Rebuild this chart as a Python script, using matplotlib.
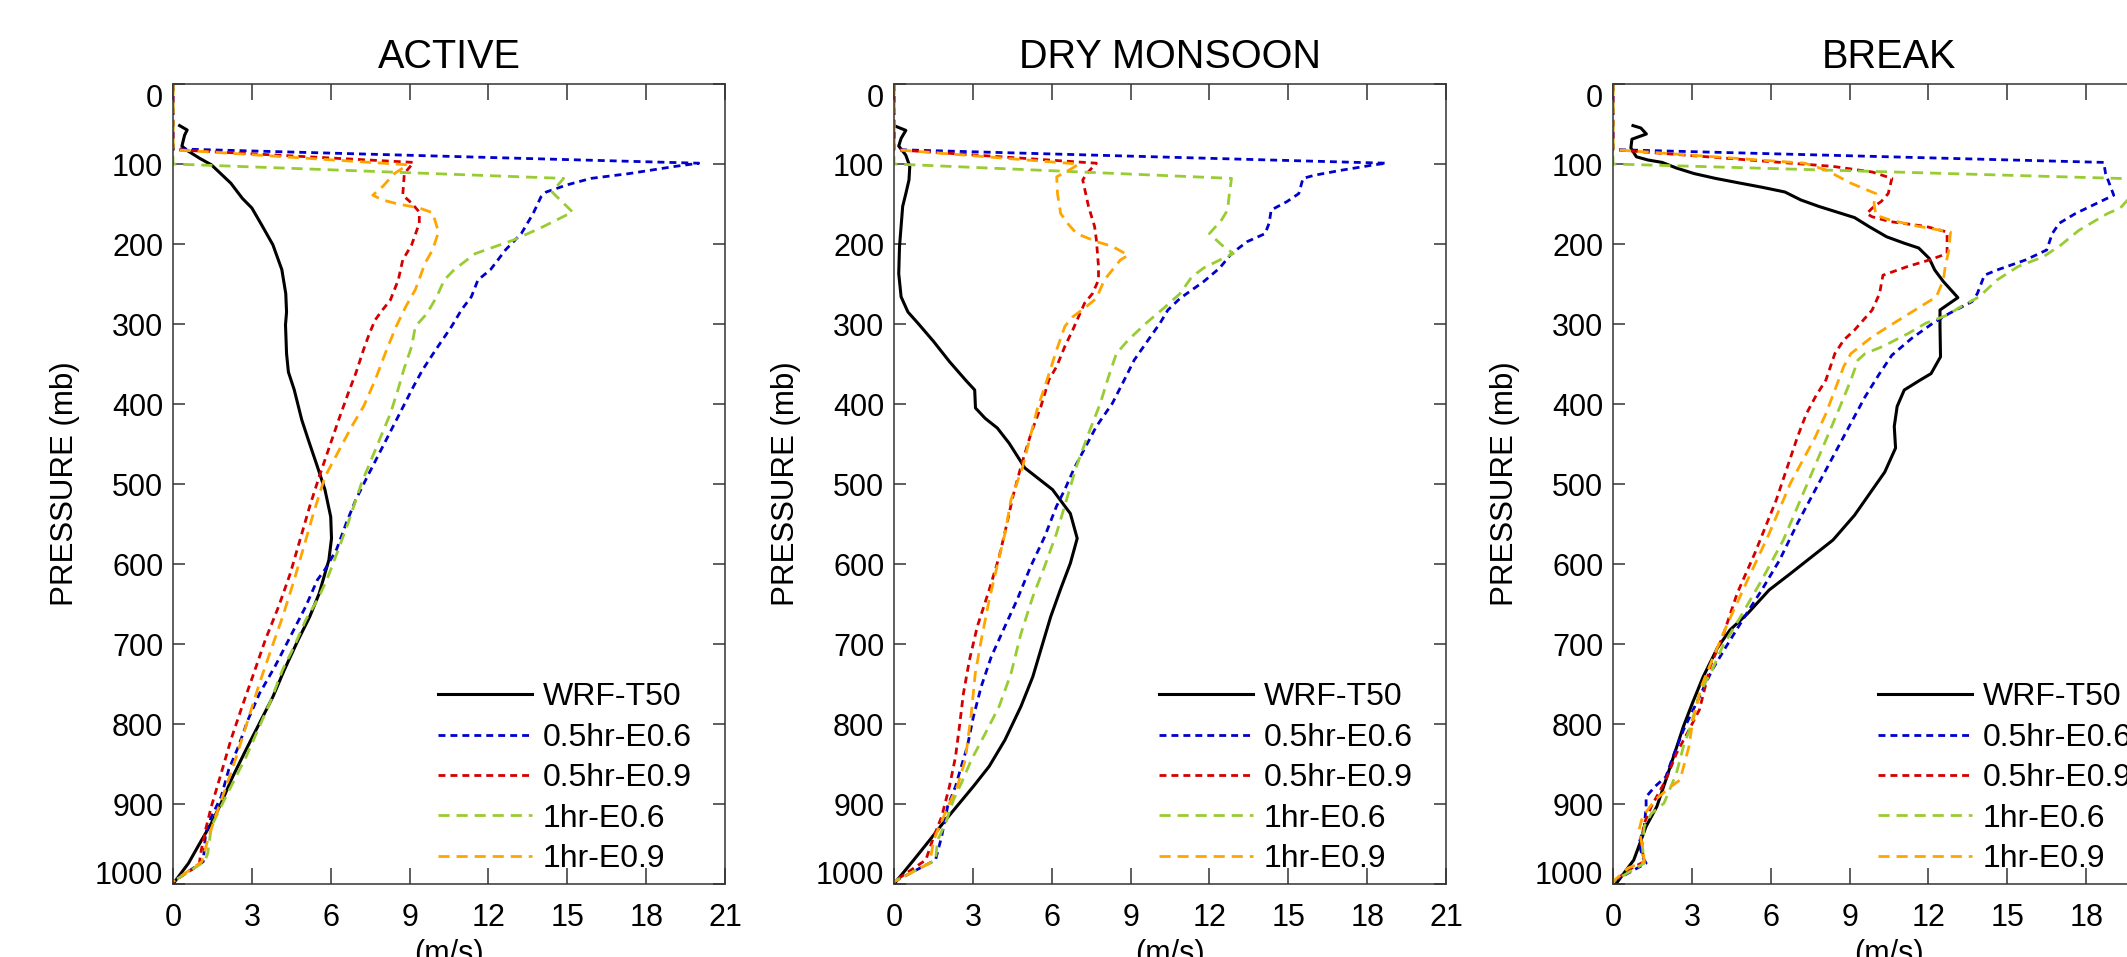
import numpy as np
import matplotlib
matplotlib.use("Agg")
import matplotlib.pyplot as plt

plt.rcParams['font.family'] = ['Liberation Sans', 'DejaVu Sans']
plt.rcParams['lines.scale_dashes'] = False

titles = ["ACTIVE", "DRY MONSOON", "BREAK"]
labels = ["WRF-T50", "0.5hr-E0.6", "0.5hr-E0.9", "1hr-E0.6", "1hr-E0.9"]
colors = ["black", "#0000cc", "#d40000", "#99cc33", "#ffa500"]
xticks = [0, 3, 6, 9, 12, 15, 18, 21]
yticks = list(range(0, 1001, 100))

# ---------------- ACTIVE ----------------
active_wrf_p = [52, 57.5, 64, 77.5, 82.5, 93, 101, 124, 143, 155, 176, 201, 232, 262, 285, 301, 337, 360, 382,
                420, 445, 478, 507, 541, 568, 595, 612, 637, 666, 695, 732, 766, 799, 832, 866, 899, 924, 949,
                974, 1000]
active_wrf_u = [0.25, 0.54, 0.44, 0.34, 0.51, 1.02, 1.46, 2.2, 2.64, 3.0, 3.37, 3.8, 4.14, 4.29, 4.32, 4.28,
                4.32, 4.39, 4.61, 4.9, 5.15, 5.49, 5.78, 6.0, 6.03, 5.93, 5.78, 5.56, 5.2, 4.76, 4.24, 3.8, 3.29,
                2.78, 2.27, 1.83, 1.46, 1.02, 0.59, 0.0]
active_b06_p = [0, 81, 99, 103, 112, 118, 126, 135, 141, 162, 187, 207, 232, 245, 266, 282, 303, 332, 357, 378,
                416, 491, 520, 549, 582, 607, 620, 653, 691, 728, 762, 795, 828, 857, 891, 916, 937, 972, 997]
active_b06_u = [0, 0, 20.0, 19.1, 17.35, 15.9, 15.0, 14.2, 14.0, 13.7, 13.25, 12.66, 12.08, 11.6, 11.35, 10.98,
                10.6, 10.0, 9.5, 9.15, 8.56, 7.39, 6.95, 6.59, 6.22, 5.78, 5.49, 5.05, 4.46, 3.88, 3.29, 2.85,
                2.49, 2.12, 1.83, 1.46, 1.24, 1.15, 0]
active_b09_p = [0, 82, 98, 112, 139, 149, 160, 174, 201, 220, 245, 270, 282, 295, 312, 332, 362, 387, 420, 491,
                528, 570, 612, 653, 695, 737, 778, 820, 862, 903, 932, 962, 976, 997]
active_b09_u = [0, 0, 9.15, 8.8, 8.74, 9.08, 9.37, 9.37, 9.08, 8.74, 8.57, 8.27, 7.98, 7.69, 7.47, 7.25, 6.95,
                6.66, 6.3, 5.56, 5.2, 4.83, 4.46, 4.02, 3.51, 3.07, 2.63, 2.2, 1.83, 1.46, 1.24, 1.05, 1.0, 0]
active_h06_p = [0, 100, 118, 135, 160, 180, 195, 207, 212, 232, 245, 266, 287, 303, 328, 357, 382, 412, 499, 549,
                582, 620, 645, 670, 703, 732, 770, 803, 841, 874, 903, 928, 962, 972, 997]
active_h06_u = [0, 0, 14.86, 14.42, 15.2, 13.98, 12.96, 11.93, 11.5, 10.7, 10.32, 10.03, 9.66, 9.22, 9.08, 8.78,
                8.56, 8.27, 7.17, 6.66, 6.29, 5.85, 5.49, 5.05, 4.61, 4.17, 3.73, 3.29, 2.78, 2.27, 1.83, 1.46,
                1.32, 1.2, 0]
active_h09_p = [0, 82, 101, 112, 128, 139, 145, 150, 155, 161, 185, 207, 224, 257, 278, 303, 332, 370, 403, 428,
                491, 537, 578, 620, 666, 707, 749, 795, 841, 882, 916, 945, 972, 997]
active_h09_u = [0, 0, 8.93, 8.42, 7.98, 7.6, 7.98, 8.56, 9.37, 9.88, 10.1, 9.88, 9.59, 9.22, 8.86, 8.49, 8.13,
                7.69, 7.25, 6.8, 5.78, 5.34, 4.98, 4.61, 4.17, 3.73, 3.29, 2.85, 2.41, 1.98, 1.61, 1.32, 1.1, 0]

# ---------------- DRY MONSOON ----------------
dry_wrf_p = [52, 58, 68, 77.5, 89, 103, 120, 137, 153, 178, 203, 237, 266, 285, 299, 322, 347, 370, 382.5, 405,
             418, 430, 449, 480, 507, 537, 568, 599, 632, 666, 699, 741, 778, 820, 853, 878, 899, 920, 945, 970,
             1000]
dry_wrf_u = [0, 0.45, 0.27, 0.18, 0.45, 0.6, 0.57, 0.45, 0.33, 0.27, 0.21, 0.18, 0.27, 0.53, 0.91, 1.51, 2.11,
             2.72, 3.07, 3.1, 3.47, 3.93, 4.38, 4.98, 6.03, 6.71, 6.97, 6.71, 6.33, 5.96, 5.66, 5.28, 4.83, 4.22,
             3.62, 3.02, 2.49, 1.96, 1.36, 0.75, 0.0]
dry_b06_p = [0, 82, 99, 101, 107.5, 114, 118, 137, 147, 157.5, 174, 187, 197, 212, 230, 247, 257.5, 268, 282.5,
             299, 320, 345, 370, 399, 428, 480, 507.5, 528, 566, 603, 645, 678, 716, 753, 791, 828, 853, 878, 903,
             941, 970, 997]
dry_b06_u = [0, 0, 18.73, 18.28, 17.07, 16.0, 15.56, 15.4, 14.95, 14.35, 14.27, 14.12, 13.44, 12.84, 12.39, 11.78,
             11.33, 10.88, 10.42, 10.12, 9.67, 9.14, 8.76, 8.31, 7.7, 6.86, 6.49, 6.18, 5.73, 5.2, 4.68, 4.22, 3.7,
             3.32, 3.02, 2.79, 2.56, 2.34, 2.04, 1.81, 1.58, 0]
dry_b09_p = [0, 82, 99, 112, 120, 153, 178, 195, 228, 245, 262, 274, 291, 307.5, 328, 353, 370, 403, 437, 478,
             516, 549, 591, 632.5, 678, 720, 762, 803, 841, 878, 916, 941, 970, 997]
dry_b09_u = [0, 0, 7.7, 7.33, 7.18, 7.4, 7.63, 7.7, 7.78, 7.78, 7.55, 7.25, 7.02, 6.8, 6.5, 6.19, 5.89, 5.59,
             5.21, 4.83, 4.52, 4.3, 4.0, 3.62, 3.17, 2.87, 2.64, 2.49, 2.34, 2.11, 1.81, 1.51, 1.21, 0]
dry_h06_p = [0, 100, 118, 137, 157.5, 170, 187, 201, 212, 220, 230, 241, 262, 280, 299, 320, 337, 366, 399, 437,
             478, 520, 562, 603, 641, 687, 737, 778, 812, 845, 874, 895, 924, 945, 970, 997]
dry_h06_u = [0, 0, 12.84, 12.76, 12.69, 12.46, 12.0, 12.46, 12.91, 12.39, 11.78, 11.33, 10.88, 10.27, 9.59, 8.91,
             8.46, 8.16, 7.85, 7.4, 6.94, 6.56, 6.18, 5.73, 5.28, 4.83, 4.45, 4.0, 3.47, 2.94, 2.56, 2.26, 1.96,
             1.66, 1.58, 0]
dry_h09_p = [0, 82, 100, 105, 116, 137, 162, 176, 187, 197, 203, 214, 220, 245, 268, 280, 291, 303, 332, 370,
             407.5, 478, 520, 562, 603, 645, 695, 737, 787, 845, 878, 899, 928, 945, 974, 997]
dry_h09_u = [0, 0, 7.02, 6.8, 6.19, 6.22, 6.34, 6.65, 6.95, 7.7, 8.31, 8.91, 8.61, 8.0, 7.7, 7.25, 6.8, 6.5,
             6.19, 5.82, 5.44, 4.9, 4.45, 4.22, 3.92, 3.62, 3.32, 3.09, 2.94, 2.71, 2.41, 2.11, 1.73, 1.51, 1.36, 0]

# ---------------- BREAK ----------------
break_wrf_p = [52, 55, 62.5, 69, 80, 91, 95, 98, 105, 112, 118, 124, 129, 135, 145, 153, 160, 167, 178, 191, 199,
               205, 218, 232.5, 247, 267, 282.5, 303, 341, 362, 370, 382.5, 403, 428, 455, 485, 507.5, 539, 570,
               591, 612, 632.5, 662, 682.5, 705, 741, 774, 803, 837, 870, 903, 928, 970, 1000]
break_wrf_u = [0.76, 1.06, 1.27, 0.72, 0.68, 0.89, 1.33, 1.87, 2.41, 3.09, 3.9, 4.85, 5.66, 6.54, 7.15, 7.83,
               8.51, 9.19, 9.73, 10.41, 11.08, 11.63, 12.03, 12.24, 12.57, 13.12, 12.44, 12.44, 12.46, 12.1, 11.69,
               11.08, 10.81, 10.7, 10.75, 10.34, 9.86, 9.19, 8.37, 7.56, 6.75, 5.94, 5.12, 4.45, 3.97, 3.43, 3.02,
               2.68, 2.34, 2.01, 1.67, 1.26, 0.79, 0.11]
break_b06_p = [0, 82, 98, 112, 139, 147, 162, 174, 187, 207.5, 220, 232.5, 239, 262, 272, 287, 299, 318, 339, 362,
               391, 424, 499, 549, 595, 632.5, 660, 703, 732.5, 770, 807.5, 841, 866, 878, 891, 903, 928, 949, 966,
               974, 997]
break_b06_u = [0, 0, 18.67, 18.74, 19.05, 18.54, 17.59, 16.98, 16.71, 16.5, 15.69, 14.61, 14.13, 13.86, 13.66,
               12.78, 12.17, 11.36, 10.61, 10.14, 9.59, 9.05, 7.83, 7.02, 6.34, 5.66, 5.12, 4.31, 3.77, 3.23, 2.68,
               2.28, 2.01, 1.6, 1.26, 1.26, 1.19, 0.99, 1.12, 1.26, 0]
break_b09_p = [0, 82, 103, 110, 118, 137, 147, 153, 162, 166, 172, 178, 185, 212, 220, 228, 239, 262, 282.5,
               307.5, 320, 337, 370, 391, 412, 441, 520, 587, 637, 691, 728, 782, 807.5, 837, 870, 903, 924, 949,
               972, 980, 997]
break_b09_u = [0, 0, 8.37, 9.86, 10.61, 10.47, 10.2, 9.93, 9.65, 9.86, 10.54, 11.9, 12.71, 12.71, 12.03, 11.22,
               10.27, 10.14, 9.86, 9.19, 8.78, 8.44, 8.1, 7.7, 7.36, 7.02, 6.21, 5.39, 4.72, 4.17, 3.7, 3.29, 2.89,
               2.41, 2.01, 1.46, 1.19, 1.06, 1.19, 0.72, 0]
break_h06_p = [0, 100, 119, 155, 162, 183, 201, 216, 228, 245, 266, 278, 289, 299, 312, 328, 337, 345, 370, 403,
               445, 507.5, 570, 620, 666, 703, 732.5, 762, 803, 828, 862, 899, 912, 928, 953, 974, 997]
break_h06_u = [0, 0, 20.3, 19.3, 18.81, 17.72, 17.05, 16.37, 15.42, 14.61, 13.93, 13.25, 12.71, 11.9, 11.22,
               10.27, 9.59, 9.32, 9.05, 8.64, 8.1, 7.29, 6.48, 5.66, 4.85, 4.17, 3.77, 3.29, 2.95, 2.68, 2.41,
               1.94, 1.46, 1.19, 1.12, 1.19, 0]
break_h09_p = [0, 82, 99, 107.5, 124, 137, 149, 164, 170, 178, 185, 207.5, 228, 245, 266, 282.5, 299, 316, 337,
               353, 382.5, 412, 441, 499, 562, 620, 678, 720, 753, 799, 828, 870, 878, 895, 916, 932.5, 953, 972,
               980, 997]
break_h09_u = [0, 0, 7.29, 8.1, 9.05, 10.0, 9.93, 10.0, 10.54, 11.63, 12.84, 12.78, 12.64, 12.57, 12.3, 11.49,
               10.68, 9.86, 9.05, 8.78, 8.44, 8.1, 7.7, 6.75, 5.94, 5.12, 4.31, 3.77, 3.36, 3.02, 2.89, 2.55, 2.21,
               1.6, 1.12, 0.99, 1.12, 1.19, 0.58, 0]

panels = [
    [(active_wrf_u, active_wrf_p), (active_b06_u, active_b06_p), (active_b09_u, active_b09_p),
     (active_h06_u, active_h06_p), (active_h09_u, active_h09_p)],
    [(dry_wrf_u, dry_wrf_p), (dry_b06_u, dry_b06_p), (dry_b09_u, dry_b09_p),
     (dry_h06_u, dry_h06_p), (dry_h09_u, dry_h09_p)],
    [(break_wrf_u, break_wrf_p), (break_b06_u, break_b06_p), (break_b09_u, break_b09_p),
     (break_h06_u, break_h06_p), (break_h09_u, break_h09_p)],
]

dashes = [None, (5, 3.6), (5, 3.6), (8, 5), (8, 5)]

W, H = 2127, 957
fig = plt.figure(figsize=(W / 100, H / 100), dpi=100)

lefts = [173, 894, 1613]
ax_w, ax_top, ax_bot = 552, 84, 884

for i, left in enumerate(lefts):
    ax = fig.add_axes([left / W, 1 - ax_bot / H, ax_w / W, (ax_bot - ax_top) / H])
    for j, (u, p) in enumerate(panels[i]):
        if dashes[j] is None:
            ax.plot(u, p, color=colors[j], lw=2.2, label=labels[j])
        else:
            ax.plot(u, p, color=colors[j], lw=2.0, dashes=dashes[j], label=labels[j])
    ax.set_xlim(0, 21)
    ax.set_ylim(1000, 0)
    ax.set_xticks(xticks)
    ax.set_yticks(yticks)
    ax.tick_params(axis='both', direction='in', top=True, right=True, labelsize=22,
                   width=1.1, color='#333333')
    ax.tick_params(axis='x', length=11.5, pad=14)
    ax.tick_params(axis='y', length=8.3, pad=7)
    # end labels sit inside the axis range, as in the original
    ylabels = ax.get_yticklabels()
    ylabels[0].set_va('top')
    ylabels[-1].set_va('baseline')
    for s in ax.spines.values():
        s.set_linewidth(1.1)
        s.set_color('#333333')
    ax.set_title(titles[i], fontsize=28.5, pad=11.3)
    ax.set_ylabel("PRESSURE (mb)", fontsize=22.5, labelpad=11)
    ax.set_xlabel("(m/s)", fontsize=22, labelpad=4.3)
    ax.legend(loc='lower left', bbox_to_anchor=(0.4795, 0.0126), frameon=False, fontsize=23,
              handlelength=2.95, handletextpad=0.35, labelspacing=0.325, borderpad=0, borderaxespad=0)

fig.savefig("out.png", dpi=100)
